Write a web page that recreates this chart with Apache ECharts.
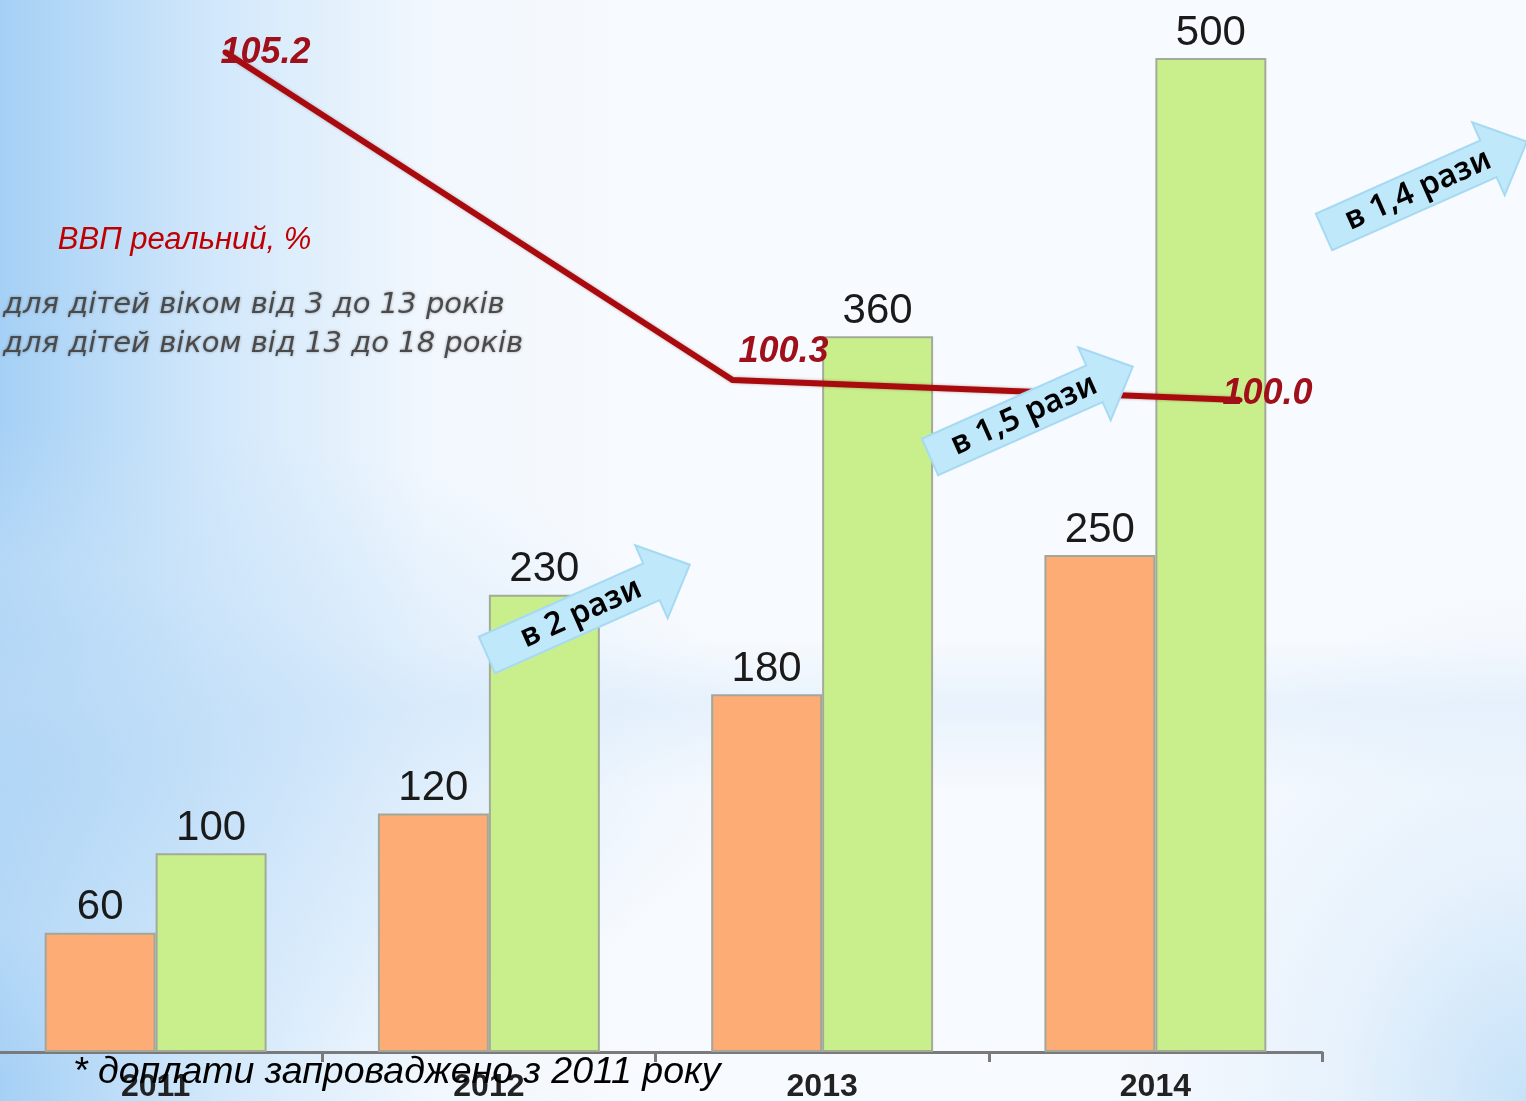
<!DOCTYPE html>
<html>
<head>
<meta charset="utf-8">
<script src="https://cdn.jsdelivr.net/npm/echarts@6/dist/echarts.min.js"></script>
<style>
html,body{margin:0;padding:0;}
body{
  width:1526px;height:1101px;overflow:hidden;
  background:
    radial-gradient(ellipse 420px 520px at 100% 100%, rgba(196,225,248,0.95) 0%, rgba(220,236,251,0.6) 45%, rgba(255,255,255,0) 100%),
    radial-gradient(ellipse 760px 330px at 0% 68%, rgba(180,215,246,0.75) 0%, rgba(200,226,249,0.45) 55%, rgba(255,255,255,0) 100%),
    linear-gradient(to bottom, rgba(255,255,255,0) 58%, rgba(205,228,249,0.35) 64%, rgba(255,255,255,0) 72%),
    linear-gradient(to right, rgba(165,208,245,1) 0%, rgba(200,227,250,0.8) 14%, rgba(235,244,253,0.5) 28%, rgba(255,255,255,0) 42%),
    #f7fafe;
}
#chart{width:1526px;height:1101px;}
</style>
</head>
<body>
<div id="chart"></div>
<script>
// ---- data ----
var years = ['2011', '2012', '2013', '2014'];
var seriesNames = ['для дітей віком від 3 до 13 років', 'для дітей віком від 13 до 18 років'];
var young = [60, 120, 180, 250];
var older = [100, 230, 360, 500];
var gdpName = 'ВВП реальний, %';
var gdpYears = ['2011', '2012', '2013'];
var gdp = [105.2, 100.3, 100.0];
var arrowTexts = ['в 2 рази', 'в 1,5 рази', 'в 1,4 рази'];
var footnote = '* доплати запроваджено з 2011 року';

var chart = echarts.init(document.getElementById('chart'), null, {renderer: 'canvas'});

function arrow(x, y, txt) {
  var L = 222, sh = 20, hw = 40, hl = 42;
  return {
    type: 'group', x: x, y: y, rotation: 24 * Math.PI / 180, z: 100,
    children: [
      {type: 'polygon', z: 100, shape: {points: [[0, -sh], [L - hl, -sh], [L - hl, -hw], [L, 0], [L - hl, hw], [L - hl, sh], [0, sh]]},
       style: {fill: '#bfe8fa', stroke: '#a6daf2', lineWidth: 2}},
      {type: 'text', z: 101, x: 103, y: 0,
       style: {text: txt, fill: '#000', font: '600 32px "Noto Sans", sans-serif', align: 'center', verticalAlign: 'middle'}}
    ]
  };
}

var labelStyle = {show: true, position: 'top', distance: 4, color: '#1a1a1a', fontSize: 42, fontFamily: 'Liberation Sans, Arial, sans-serif'};

var gdpData = gdp.map(function (v, i) {
  var lab;
  if (i === 0) lab = {position: 'right', offset: [-12, 1]};
  else if (i === 1) lab = {position: 'top', offset: [51, -2]};
  else lab = {position: 'right', offset: [-25, -6]};
  return {value: v, label: lab};
});

chart.setOption({
  backgroundColor: 'transparent',
  animation: false,
  legend: [{
    data: seriesNames, orient: 'vertical', left: -8, top: 284,
    itemWidth: 0, itemHeight: 31, itemGap: 6,
    itemStyle: {opacity: 0},
    textStyle: {color: '#4a4a4a', fontSize: 29, fontStyle: 'italic', fontFamily: 'DejaVu Sans, sans-serif',
      textShadowColor: 'rgba(0,0,0,0.35)', textShadowBlur: 3}
  }, {
    data: [gdpName], left: 35, top: 220, itemWidth: 0, itemHeight: 32,
    itemStyle: {opacity: 0}, lineStyle: {opacity: 0},
    textStyle: {color: '#c00000', fontSize: 31, fontStyle: 'italic', fontFamily: 'Liberation Sans, Arial, sans-serif'}
  }],
  grid: [
    {left: -11, top: 58, width: 1333, bottom: 49, containLabel: false, outerBoundsMode: 'none'},
    {left: 225, top: 52, width: 1015, height: 348, containLabel: false, outerBoundsMode: 'none'}
  ],
  xAxis: [{
    type: 'category', data: years, gridIndex: 0,
    axisLine: {lineStyle: {color: '#7a7a7a', width: 3}},
    axisTick: {show: true, length: 10, lineStyle: {color: '#7a7a7a', width: 3}},
    axisLabel: {color: '#222', fontSize: 32, fontWeight: 'bold', fontFamily: 'Liberation Sans Narrow, Liberation Sans, Arial, sans-serif', margin: 19}
  }, {
    type: 'category', data: gdpYears, gridIndex: 1, boundaryGap: false, show: false
  }],
  yAxis: [{
    type: 'value', min: 0, max: 500, gridIndex: 0, show: false, splitLine: {show: false}
  }, {
    type: 'value', min: 100, max: 105.2, gridIndex: 1, show: false, splitLine: {show: false}
  }],
  series: [{
    name: seriesNames[0], type: 'bar', data: young, barGap: '0%', barCategoryGap: '33.4%',
    itemStyle: {color: '#fcac74', borderColor: '#a3a69a', borderWidth: 2},
    label: labelStyle, z: 2
  }, {
    name: seriesNames[1], type: 'bar', data: older, barGap: '0%', barCategoryGap: '33.4%',
    itemStyle: {color: '#c9ef8c', borderColor: '#a3ab98', borderWidth: 2},
    label: labelStyle, z: 2
  }, {
    name: gdpName, type: 'line', xAxisIndex: 1, yAxisIndex: 1, data: gdpData, z: 5,
    symbol: 'circle', symbolSize: 5,
    lineStyle: {color: '#a80a0e', width: 6, shadowColor: 'rgba(80,0,0,0.35)', shadowBlur: 3},
    itemStyle: {color: '#a80a0e'},
    label: {show: true, color: '#a0101a', fontSize: 36, fontWeight: 'bold', fontStyle: 'italic', fontFamily: 'Liberation Sans, Arial, sans-serif',
      formatter: function (p) { return Number(p.value).toFixed(1); }}
  }],
  graphic: [
    arrow(487, 655, arrowTexts[0]),
    arrow(930, 457, arrowTexts[1]),
    arrow(1324, 232, arrowTexts[2]),
    {type: 'text', left: 73, top: 1054, z: 110,
     style: {text: footnote, fill: '#000', font: 'italic 37.5px "Liberation Sans", Arial, sans-serif'}}
  ]
});
</script>
</body>
</html>
